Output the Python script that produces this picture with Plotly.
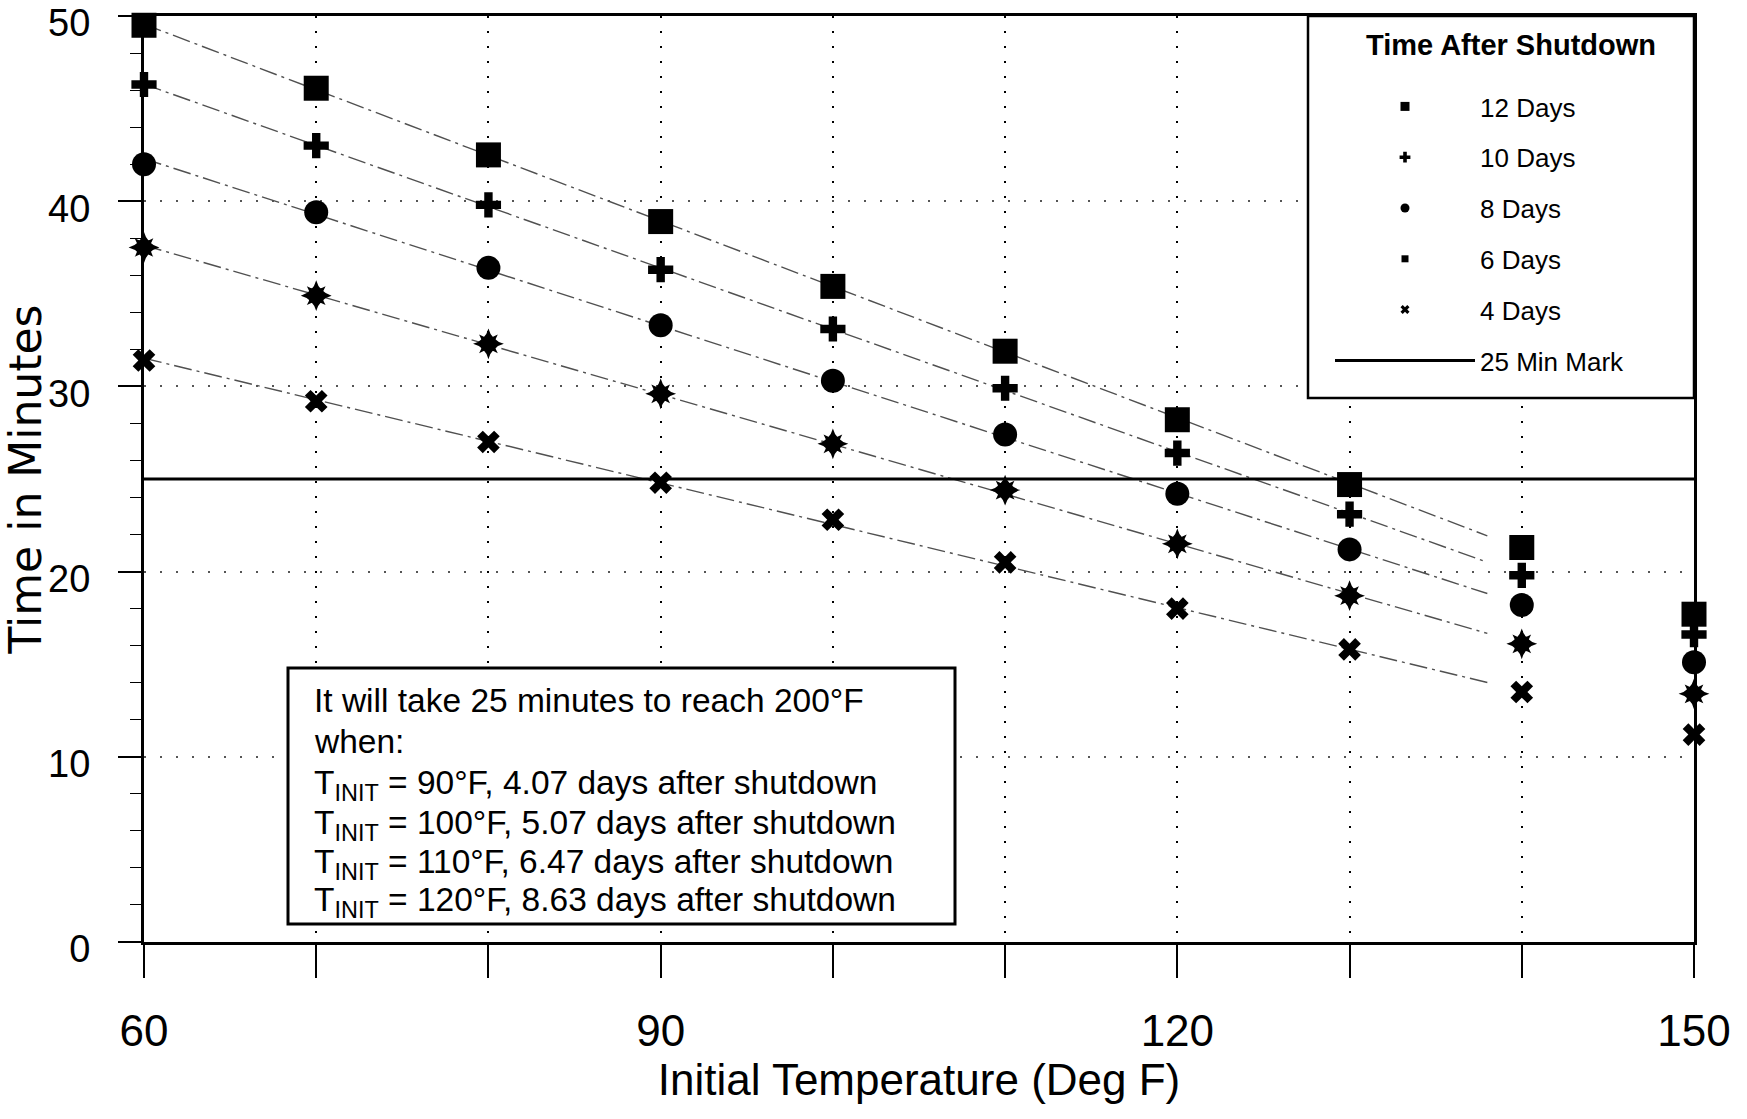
import numpy as np
import plotly.graph_objects as go

# Initial temperature (deg F)
temps = [60, 70, 80, 90, 100, 110, 120, 130, 140, 150]

# Minutes to reach 200 deg F, by time after shutdown
days_12 = [49.5, 46.1, 42.5, 38.9, 35.4, 31.9, 28.2, 24.7, 21.3, 17.7]
days_10 = [46.3, 43.0, 39.8, 36.3, 33.1, 29.9, 26.4, 23.1, 19.8, 16.6]
days_8 = [42.0, 39.4, 36.4, 33.3, 30.3, 27.4, 24.2, 21.2, 18.2, 15.1]
days_6 = [37.5, 34.9, 32.3, 29.6, 26.9, 24.4, 21.5, 18.7, 16.1, 13.4]
days_4 = [31.4, 29.2, 27.0, 24.8, 22.8, 20.5, 18.0, 15.8, 13.5, 11.2]
series_names = ["12 Days", "10 Days", "8 Days", "6 Days", "4 Days"]

trend_end = 138          # trend lines run from 60 deg F to here
mark_minutes = 25        # reference limit
mark_x = [60, 150]

x_label_ticks = [60, 90, 120, 150]
y_ticks = [0, 10, 20, 30, 40, 50]

note_lines = [
    "It will take 25 minutes to reach 200°F",
    "when:",
    "T<sub>INIT</sub> = 90°F, 4.07 days after shutdown",
    "T<sub>INIT</sub> = 100°F, 5.07 days after shutdown",
    "T<sub>INIT</sub> = 110°F, 6.47 days after shutdown",
    "T<sub>INIT</sub> = 120°F, 8.63 days after shutdown",
]

ARIAL = "Liberation Sans, Arial, sans-serif"

# page geometry (pixels)
W, H = 1747, 1119
ML, MR, MT, MB = 144, 53, 16, 177
PW, PH = W - ML - MR, H - MT - MB


def px(x):
    """Horizontal pixel -> paper fraction."""
    return (x - ML) / PW


def py(y):
    """Vertical pixel (from top) -> paper fraction."""
    return (H - MB - y) / PH


series = [days_12, days_10, days_8, days_6, days_4]
# (symbol, size) for the plotted markers; 6 Days uses two stacked stars
marker_specs = [
    [("square", 25)],
    [("cross", 21)],
    [("circle", 24)],
    [("star-diamond", 22), ("star-square", 17)],
    [("x", 20)],
]
legend_specs = [("square", 9), ("cross", 9), ("circle", 9), ("square", 7), ("x", 8)]

fig = go.Figure()

# dash-dot trend lines (least-squares fit of each series)
for vals in series:
    coef = np.polyfit(temps, vals, 1)
    xs = np.array([temps[0], trend_end], dtype=float)
    fig.add_trace(go.Scatter(
        x=xs, y=np.polyval(coef, xs), mode="lines",
        line=dict(color="#505050", width=1.4, dash="18px,5px,3px,5px"),
        showlegend=False, hoverinfo="skip"))

# data markers
for name, vals, specs in zip(series_names, series, marker_specs):
    for sym, size in specs:
        fig.add_trace(go.Scatter(
            x=temps, y=vals, mode="markers", name=name,
            marker=dict(symbol=sym, size=size, color="black", line=dict(width=0)),
            showlegend=False, cliponaxis=False))

# legend entries (small symbols)
for name, (sym, size) in zip(series_names, legend_specs):
    fig.add_trace(go.Scatter(
        x=[None], y=[None], mode="markers", name=name, legendgroup=name,
        marker=dict(symbol=sym, size=size, color="black")))

# 25 minute mark
fig.add_trace(go.Scatter(
    x=mark_x, y=[mark_minutes] * len(mark_x), mode="lines", name="25 Min Mark",
    legendgroup="mark", line=dict(color="black", width=3), cliponaxis=False))

# frames for the legend and the note
fig.add_shape(type="rect", xref="paper", yref="paper",
              x0=px(1308), x1=1.0, y0=py(398), y1=1.0,
              line=dict(color="black", width=2.5), fillcolor="white", layer="above")
fig.add_shape(type="rect", xref="paper", yref="paper",
              x0=px(288), x1=px(955), y0=py(924), y1=py(668),
              line=dict(color="black", width=3), fillcolor="white", layer="above")

# legend heading
fig.add_annotation(text="Time After Shutdown", xref="paper", yref="paper",
                   x=px(1511), y=py(45), xanchor="center", yanchor="middle",
                   showarrow=False,
                   font=dict(family=ARIAL, size=29, color="black", weight="bold"))

# note text, one line per annotation
line_centres = [700, 741.7, 783.3, 823.3, 861.7, 900]
for text, yc in zip(note_lines, line_centres):
    shift = 2 if "<sub>" in text else 0
    fig.add_annotation(text=text, xref="paper", yref="paper",
                       x=px(312), y=py(yc + shift), xanchor="left", yanchor="middle",
                       align="left", showarrow=False,
                       font=dict(family=ARIAL, size=33.5, color="black"))

fig.update_layout(
    width=W, height=H,
    margin=dict(l=ML, r=MR, t=MT, b=MB),
    paper_bgcolor="white", plot_bgcolor="white",
    showlegend=True,
    legend=dict(
        x=px(1330), xanchor="left", y=py(83), yanchor="top",
        bgcolor="rgba(0,0,0,0)", borderwidth=0,
        font=dict(family=ARIAL, size=26, color="black"),
        itemwidth=140, tracegroupgap=14, traceorder="grouped"),
    xaxis=dict(
        range=[60, 150], tickvals=x_label_ticks, automargin=False,
        ticks="outside", ticklen=33, tickwidth=1.5, tickcolor="black",
        ticklabelstandoff=15,
        tickfont=dict(family=ARIAL, size=44, color="black"),
        minor=dict(dtick=10, tick0=60, ticklen=33, ticks="outside",
                   tickcolor="black", tickwidth=1.5,
                   showgrid=True, gridcolor="black", gridwidth=2, griddash="2px,13px"),
        showline=True, linewidth=3, linecolor="black", mirror=True,
        showgrid=True, gridcolor="black", gridwidth=2, griddash="2px,13px",
        zeroline=False,
        title=dict(text="Initial Temperature (Deg F)", standoff=1,
                   font=dict(family=ARIAL, size=44, color="black"))),
    yaxis=dict(
        range=[0, 50], tickvals=y_ticks, automargin=False,
        ticklabeloverflow="allow", ticklabelshift=7,
        ticks="outside", ticklen=23, tickwidth=1.5, tickcolor="black",
        ticklabelstandoff=20,
        tickfont=dict(family=ARIAL, size=38, color="black"),
        minor=dict(dtick=2, ticklen=11, ticks="outside", tickcolor="black",
                   tickwidth=1.2, showgrid=False),
        showline=True, linewidth=3, linecolor="black", mirror=True,
        showgrid=True, gridcolor="#555555", gridwidth=2, griddash="2px,14px",
        zeroline=False,
        title=dict(text="Time in Minutes", standoff=2,
                   font=dict(family="DejaVu Sans, sans-serif", size=44, color="black"))),
)

fig.write_html("out.html")
